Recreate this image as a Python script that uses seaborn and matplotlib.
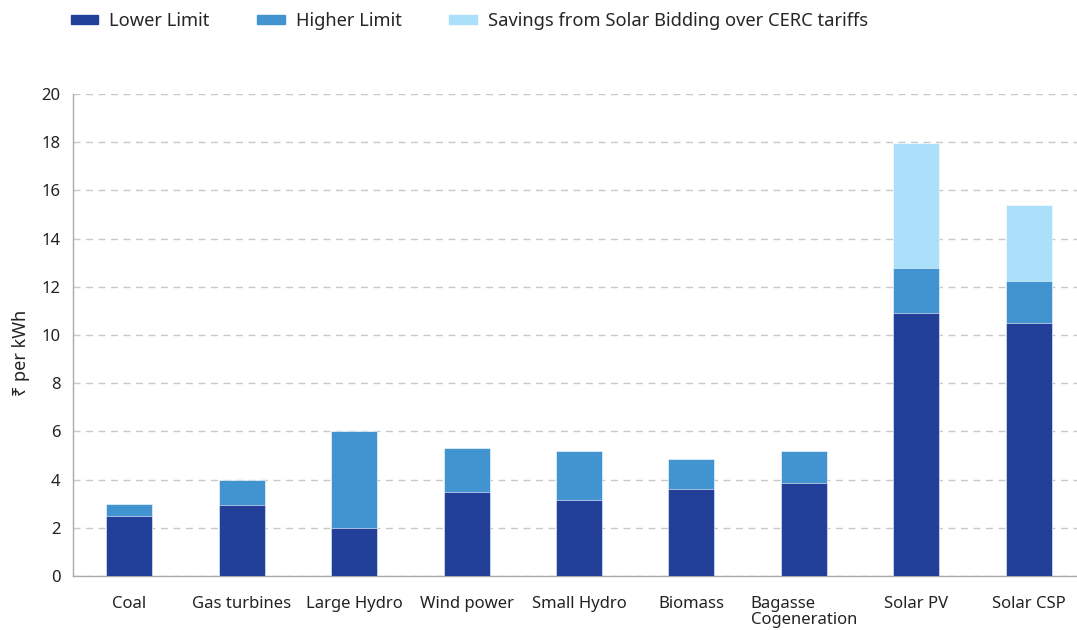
import numpy as np
import pandas as pd
import matplotlib
matplotlib.use("Agg")
import matplotlib.pyplot as plt
from matplotlib.patches import Patch
import seaborn as sns

categories = ["Coal", "Gas turbines", "Large Hydro", "Wind power", "Small Hydro",
              "Biomass", "Bagasse\nCogeneration", "Solar PV", "Solar CSP"]
lower_limit = [2.5, 2.95, 2.0, 3.5, 3.15, 3.6, 3.87, 10.9, 10.5]
higher_limit = [3.0, 4.0, 6.0, 5.3, 5.2, 4.87, 5.2, 12.78, 12.22]
cerc_tariff = [np.nan, np.nan, np.nan, np.nan, np.nan, np.nan, np.nan, 17.95, 15.38]

c_lower = "#22409A"
c_higher = "#4294D0"
c_saving = "#AAE0F9"

sns.set_theme(style="white")
plt.rcParams["font.family"] = ["Noto Sans", "DejaVu Sans"]

df = pd.DataFrame({"cat": categories, "lower": lower_limit,
                   "higher": higher_limit, "tariff": cerc_tariff})

fig = plt.figure(figsize=(10.77, 6.3), dpi=100)
ax = fig.add_axes([73 / 1077, 1 - 576 / 630, (1085 - 73) / 1077, (576 - 94) / 630])

bw = 0.41
for col, colr in (("tariff", c_saving), ("higher", c_higher), ("lower", c_lower)):
    sns.barplot(data=df, x="cat", y=col, color=colr, width=bw, ax=ax,
                saturation=1, edgecolor="white", linewidth=0.4, zorder=3)

ax.set_xlim(-0.5, len(categories) - 0.5)
ax.set_ylim(0, 20)
ax.set_yticks(np.arange(0, 21, 2))
ax.tick_params(axis="y", labelsize=12, labelcolor="#222222", length=5, width=0.8,
               color="#aaaaaa", direction="out", pad=4)
# category labels sit between boundary ticks
ax.set_xticks(np.arange(len(categories)))
ax.set_xticklabels(categories, fontsize=12, color="#222222", multialignment="left",
                   va="top", linespacing=0.95)
ax.tick_params(axis="x", which="major", length=0, pad=14.5)
ax.set_xticks(np.arange(len(categories)) - 0.5, minor=True)
ax.tick_params(axis="x", which="minor", length=6, width=0.8, color="#aaaaaa",
               direction="out")

ax.yaxis.grid(True, linestyle=(0, (5, 4)), color="#c8c8c8", linewidth=1.0, zorder=0)
ax.xaxis.grid(False)
for s in ("top", "right"):
    ax.spines[s].set_visible(False)
for s in ("left", "bottom"):
    ax.spines[s].set_color("#aaaaaa")
    ax.spines[s].set_linewidth(1.0)

ax.set_xlabel("")
ax.set_ylabel("₹ per kWh", fontsize=13, color="#222222")
ax.yaxis.set_label_coords(-0.042, 0.463)

handles = [Patch(color=c_lower, label="Lower Limit"),
           Patch(color=c_higher, label="Higher Limit"),
           Patch(color=c_saving, label="Savings from Solar Bidding over CERC tariffs")]
fig.legend(handles=handles, loc="center left", bbox_to_anchor=(54 / 1077, 1 - 21 / 630),
           ncol=3, frameon=False, fontsize=13.2, handlelength=1.5, handleheight=0.33,
           handletextpad=0.6, columnspacing=2.6)

fig.savefig("out.png", dpi=100)
